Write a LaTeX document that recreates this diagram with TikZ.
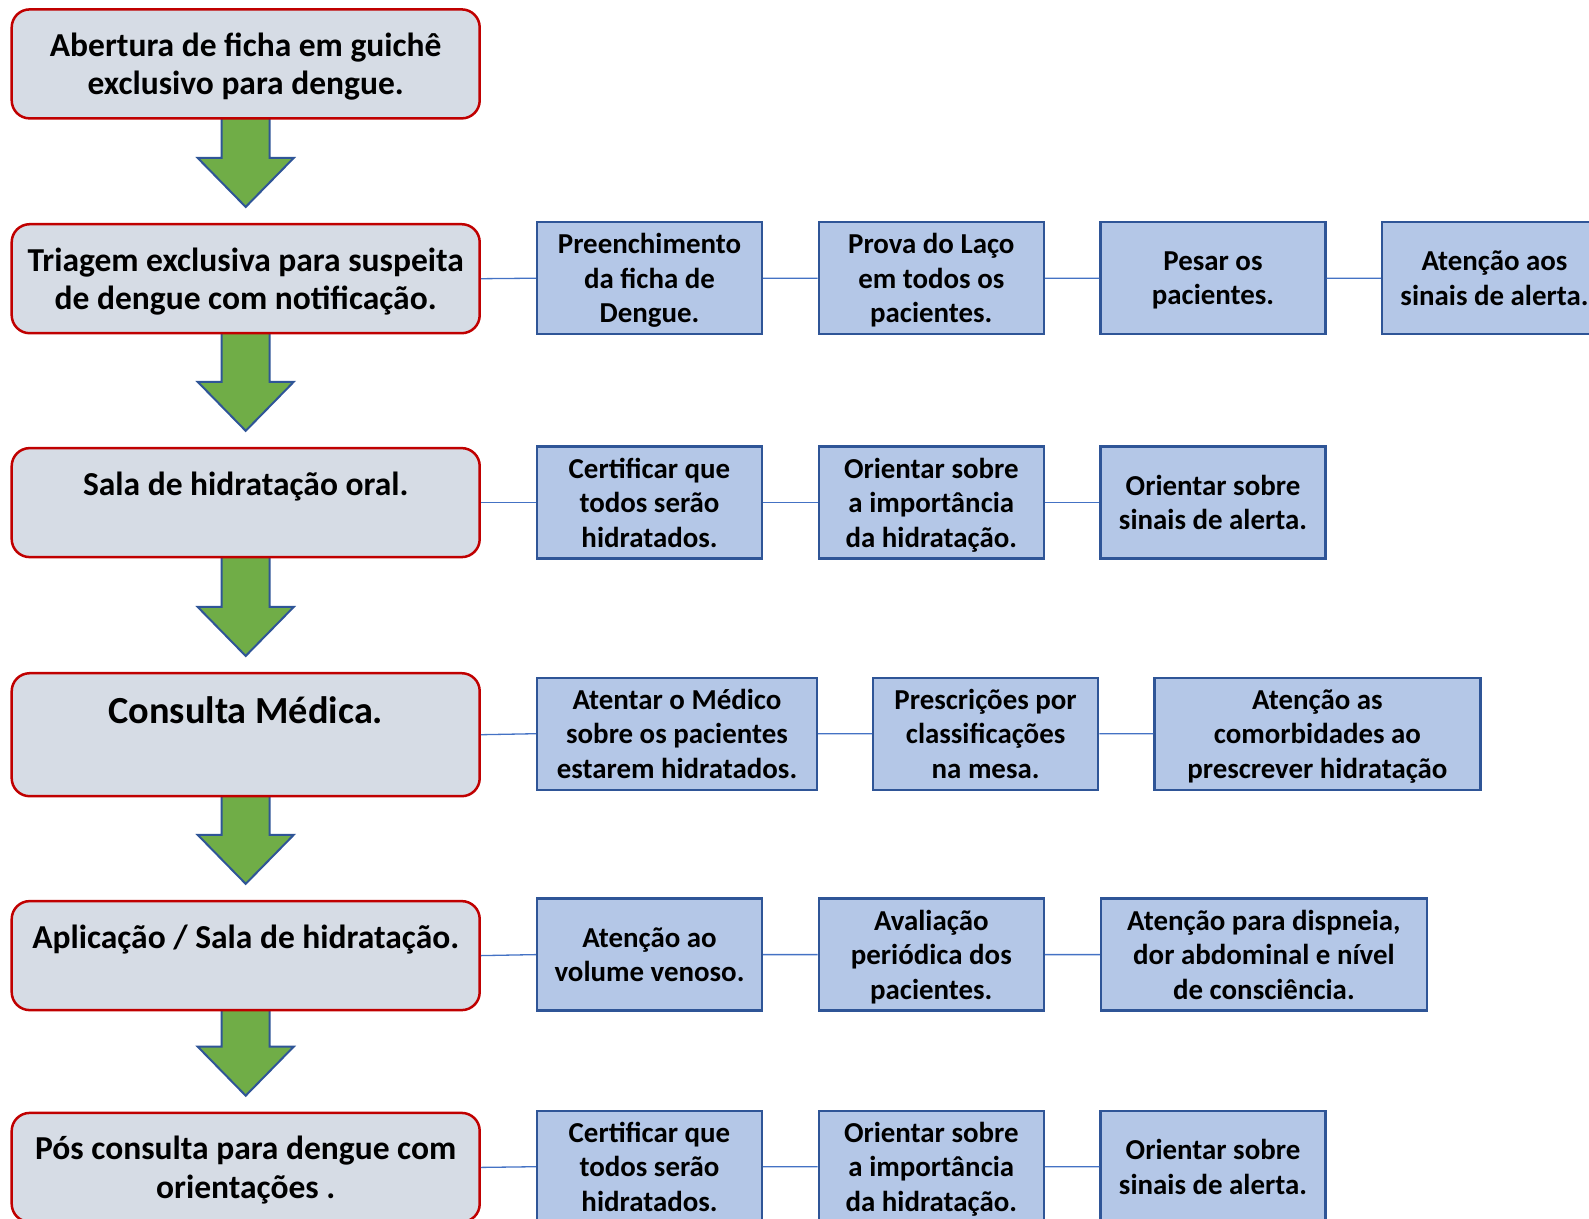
\documentclass[tikz,border=0pt]{standalone}
\usepackage{fontspec}
\setmainfont{Carlito}
\usetikzlibrary{calc,backgrounds}
\definecolor{stagefill}{HTML}{D6DCE5}
\definecolor{stageline}{HTML}{C00000}
\definecolor{taskfill}{HTML}{B4C7E7}
\definecolor{taskline}{HTML}{2F5597}
\definecolor{lnkcol}{HTML}{4472C4}
\definecolor{arrfill}{HTML}{70AD47}
\newcommand{\stagefont}{\fontsize{33.5}{38.5}\selectfont\bfseries}
\newcommand{\bigstagefont}{\fontsize{38.3}{48.8}\selectfont\bfseries}
\newcommand{\taskfont}{\fontsize{28.9}{34.5}\selectfont\bfseries}
\tikzset{
  stage/.style={rectangle,rounded corners=18pt,draw=stageline,fill=stagefill,line width=2.5pt,
    minimum width=468pt,minimum height=109pt,inner sep=2pt,align=center,font=\stagefont,
    text depth=0pt},
  task/.style={rectangle,draw=taskline,fill=taskfill,line width=2.3pt,
    minimum width=225pt,minimum height=112pt,inner sep=2pt,align=center,font=\taskfont,
    text depth=0pt},
  lnk/.style={draw=lnkcol,line width=1.3pt},
  down/.style={fill=arrfill,draw=taskline,line width=2pt,line join=miter},
}

\begin{document}
\begin{tikzpicture}[x=1pt,y=-1pt]
\useasboundingbox (0,0) rectangle (1589,1218);
\clip (0,0) rectangle (1589,1218);
% ---------- left column: stages ----------
\node[stage] (s1) at (245.7,63.9) {Abertura de ficha em guichê\\exclusivo para dengue.};
\node[stage] (s2) at (245.7,278.7) {Triagem exclusiva para suspeita\\de dengue com notificação.};
\node[stage] (s3) at (245.7,502.6) {Sala de hidratação oral.\\\mbox{}};
\node[stage,minimum height=123pt,font=\bigstagefont] (s4) at (245.7,734.7) {Consulta Médica.\\\mbox{}};
\node[stage] (s5) at (245.7,955.6) {Aplicação / Sala de hidratação.\\\mbox{}};
\node[stage] (s6) at (245.7,1167.4) {Pós consulta para dengue com\\orientações .};
% ---------- row 1: triagem ----------
\node[task] (ta1) at (649.5,278.2) {Preenchimento\\da ficha de\\Dengue.};
\node[task] (ta2) at (931.3,278.2) {Prova do Laço\\em todos os\\pacientes.};
\node[task] (ta3) at (1213.0,278.2) {Pesar os\\pacientes.};
\node[task] (ta4) at (1494.5,278.2) {Atenção aos\\sinais de alerta.};
\draw[lnk] (s2.east) -- (ta1.west) (ta1.east) -- (ta2.west)
           (ta2.east) -- (ta3.west) (ta3.east) -- (ta4.west);
% ---------- row 2: hidratacao oral ----------
\node[task] (ha1) at (649.5,502.6) {Certificar que\\todos serão\\hidratados.};
\node[task] (ha2) at (931.3,502.6) {Orientar sobre\\a importância\\da hidratação.};
\node[task] (ha3) at (1213.0,502.6) {Orientar sobre\\sinais de alerta.};
\draw[lnk] (s3.east) -- (ha1.west) (ha1.east) -- (ha2.west) (ha2.east) -- (ha3.west);
% ---------- row 3: consulta ----------
\node[task,minimum width=280pt] (co1) at (677.0,733.7) {Atentar o Médico\\sobre os pacientes\\estarem hidratados.};
\node[task] (co2) at (985.6,733.7) {Prescrições por\\classificações\\na mesa.};
\node[task,minimum width=326pt] (co3) at (1317.4,733.7) {Atenção as\\comorbidades ao\\prescrever hidratação};
\draw[lnk] (s4.east) -- (co1.west) (co1.east) -- (co2.west) (co2.east) -- (co3.west);
% ---------- row 4: aplicacao ----------
\node[task] (ap1) at (649.5,954.6) {Atenção ao\\volume venoso.};
\node[task] (ap2) at (931.3,954.6) {Avaliação\\periódica dos\\pacientes.};
\node[task,minimum width=326pt] (ap3) at (1263.9,954.6) {Atenção para dispneia,\\dor abdominal e nível\\de consciência.};
\draw[lnk] (s5.east) -- (ap1.west) (ap1.east) -- (ap2.west) (ap2.east) -- (ap3.west);
% ---------- row 5: pos consulta ----------
\node[task] (po1) at (649.5,1166.7) {Certificar que\\todos serão\\hidratados.};
\node[task] (po2) at (931.3,1166.7) {Orientar sobre\\a importância\\da hidratação.};
\node[task] (po3) at (1213.0,1166.7) {Orientar sobre\\sinais de alerta.};
\draw[lnk] (s6.east) -- (po1.west) (po1.east) -- (po2.west) (po2.east) -- (po3.west);
% ---------- green arrows between stages ----------
\begin{scope}[on background layer]
\foreach \a/\b in {s1/s2,s2/s3,s3/s4,s4/s5,s5/s6}{
  \draw[down] let \p1=(\a.center), \p2=(\b.north) in
    ({\x1-24pt},{\y1}) -- ({\x1-24pt},{\y2+65pt}) -- ({\x1-48pt},{\y2+65pt})
    -- ({\x1},{\y2+16pt}) -- ({\x1+48pt},{\y2+65pt}) -- ({\x1+24pt},{\y2+65pt})
    -- ({\x1+24pt},{\y1}) -- cycle;
}
\end{scope}
\end{tikzpicture}
\end{document}
